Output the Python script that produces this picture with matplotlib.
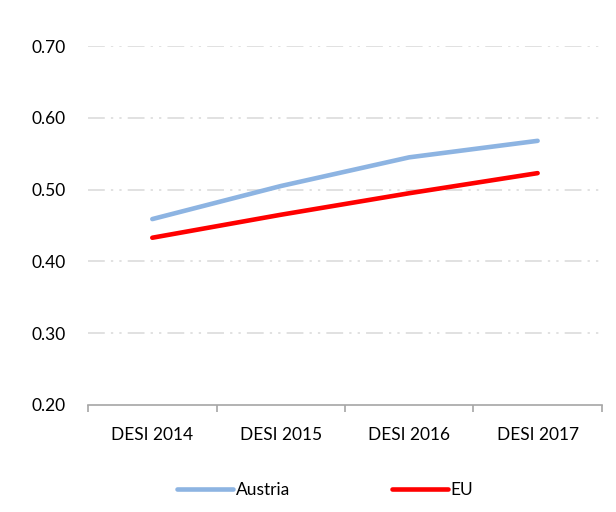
import matplotlib.pyplot as plt

categories = ["DESI 2014", "DESI 2015", "DESI 2016", "DESI 2017"]
austria = [0.459, 0.505, 0.545, 0.568]
eu = [0.433, 0.465, 0.495, 0.523]
y_ticks = [0.20, 0.30, 0.40, 0.50, 0.60, 0.70]

plt.rcParams["font.family"] = ["Lato", "DejaVu Sans"]

fig = plt.figure(figsize=(6.16, 5.12), dpi=100)
ax = fig.add_axes([0.143, 0.209, 0.834, 0.701])

x = list(range(len(categories)))
ax.plot(x, austria, color="#8DB4E2", lw=3.3, solid_capstyle="round", label="Austria")
ax.plot(x, eu, color="#FF0000", lw=3.3, solid_capstyle="round", label="EU")

ax.set_ylim(0.20, 0.70)
ax.set_xlim(-0.5, len(categories) - 0.5)
ax.set_yticks(y_ticks)
ax.set_yticklabels([f"{v:.2f}" for v in y_ticks])
ax.set_xticks([i - 0.5 for i in range(len(categories) + 1)])
ax.set_xticklabels([])
ax.set_xticks(x, minor=True)
ax.set_xticklabels(categories, minor=True)

for v in y_ticks[1:]:
    ax.axhline(v, color="#D9D9D9", lw=1.1, dashes=(11, 4, 1.5, 4, 1.5, 4), zorder=0)

for s in ["top", "right", "left"]:
    ax.spines[s].set_visible(False)
ax.spines["bottom"].set_color("#A6A6A6")
ax.spines["bottom"].set_linewidth(1.2)
ax.tick_params(axis="y", length=0, pad=16, labelsize=12.5)
ax.tick_params(axis="x", which="major", length=5, color="#A6A6A6", width=1.2)
ax.tick_params(axis="x", which="minor", length=0, pad=16, labelsize=12.5)

fig.legend(loc="center", bbox_to_anchor=(0.528, 0.043), ncol=2, frameon=False,
           handlelength=3.2, handletextpad=0.15, columnspacing=5.9, fontsize=12.5)

fig.savefig("out.png", dpi=100)
